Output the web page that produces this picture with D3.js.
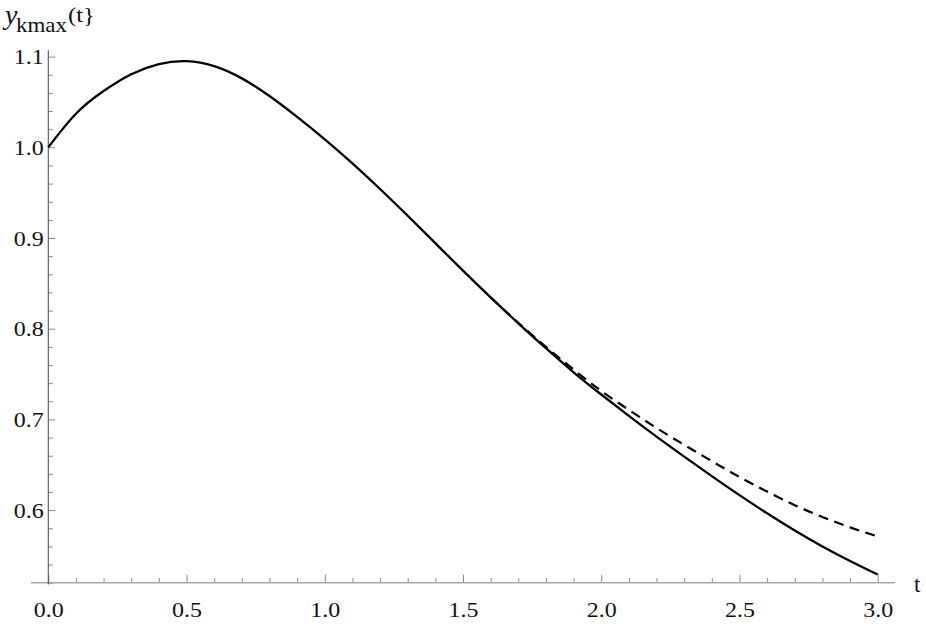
<!DOCTYPE html>
<html>
<head>
<meta charset="utf-8">
<script src="https://cdn.jsdelivr.net/npm/d3@7"></script>
<style>
  body { margin: 0; background: #fff; }
</style>
</head>
<body>
<div id="chart"></div>
<script>
// values
const solidT = d3.range(0, 31).map((i) => i / 10);
const solidY = [1.0, 1.037, 1.062, 1.0805, 1.0918, 1.095, 1.0895, 1.076, 1.0565, 1.0335,
  1.0088, 0.9823, 0.954, 0.9245, 0.8943, 0.864, 0.8345, 0.806, 0.7785, 0.752,
  0.7275, 0.7039, 0.681, 0.659, 0.6375, 0.6165, 0.5965, 0.5775, 0.56, 0.544, 0.529];
const dashT = [1.6, 1.7, 1.8, 1.9, 2.0, 2.1, 2.2, 2.3, 2.4, 2.5, 2.6, 2.7, 2.8, 2.9, 3.0];
const dashY = [0.8345, 0.8065, 0.780, 0.755, 0.7315, 0.7105, 0.6905, 0.672, 0.654, 0.6365, 0.6205, 0.6055, 0.5925, 0.581, 0.571];
const xTicks = [0, 0.5, 1.0, 1.5, 2.0, 2.5, 3.0];
const yTicks = [0.6, 0.7, 0.8, 0.9, 1.0, 1.1];

const serif = '"Liberation Serif", "Times New Roman", Times, Tinos, "Nimbus Roman", "Noto Serif", "DejaVu Serif", serif';
const width = 926, height = 626;
const x = d3.scaleLinear().domain([0, 3]).range([48.3, 877.7]);
const y = d3.scaleLinear().domain([0.52, 1.1]).range([582.7, 56.6]);

const svg = d3.select('#chart').append('svg').attr('width', width).attr('height', height)
  .attr('font-family', serif);

function styleAxis(g) {
  g.select('.domain').remove();
  g.attr('font-family', serif).attr('font-size', 22);
  g.selectAll('line').attr('stroke', '#8a8a8a');
  g.selectAll('text').attr('font-family', serif).attr('fill', '#111')
    .attr('textLength', 30).attr('lengthAdjust', 'spacingAndGlyphs');
}

// x ticks
const xMinor = d3.range(0, 31).map((i) => i / 10).filter((v) => Math.round(v * 10) % 5 !== 0);
svg.append('g').attr('transform', `translate(0,${y(0.52)})`)
  .call(d3.axisBottom(x).tickValues(xMinor).tickSize(-4.5).tickFormat(''))
  .call(styleAxis);
svg.append('g').attr('transform', `translate(0,${y(0.52)})`)
  .call(d3.axisBottom(x).tickValues(xTicks).tickSize(-8).tickPadding(18.5).tickFormat(d3.format('.1f')))
  .call(styleAxis);

// y ticks
const yMinor = d3.range(26, 56).map((i) => i / 50).filter((v) => Math.round(v * 50) % 5 !== 0);
svg.append('g').attr('transform', `translate(${x(0)},0)`)
  .call(d3.axisLeft(y).tickValues(yMinor).tickSize(-4.5).tickFormat(''))
  .call(styleAxis);
svg.append('g').attr('transform', `translate(${x(0)},0)`)
  .call(d3.axisLeft(y).tickValues(yTicks).tickSize(-7).tickPadding(4.5).tickFormat(d3.format('.1f')))
  .call(styleAxis);

// axis lines
svg.append('line')
  .attr('x1', x(-0.063)).attr('x2', x(3.063))
  .attr('y1', y(0.52)).attr('y2', y(0.52))
  .attr('stroke', '#a8a8a8').attr('stroke-width', 1.6);
svg.append('line')
  .attr('x1', x(0)).attr('x2', x(0))
  .attr('y1', y(1.107)).attr('y2', y(0.518))
  .attr('stroke', '#555').attr('stroke-width', 1.1);

const line = d3.line().x((d) => x(d[0])).y((d) => y(d[1])).curve(d3.curveNatural);

svg.append('path')
  .datum(dashT.map((t, i) => [t, dashY[i]]))
  .attr('d', line)
  .attr('fill', 'none')
  .attr('stroke', '#000')
  .attr('stroke-width', 2.2)
  .attr('stroke-dasharray', '10,6.5');

svg.append('path')
  .datum(solidT.map((t, i) => [t, solidY[i]]))
  .attr('d', line)
  .attr('fill', 'none')
  .attr('stroke', '#000')
  .attr('stroke-width', 2.3)
  .attr('stroke-linejoin', 'round');

// axis labels
svg.append('text').attr('x', 914).attr('y', 592).attr('font-size', 23).attr('fill', '#111').text('t');

svg.append('text').attr('x', 5).attr('y', 24).attr('fill', '#111')
  .attr('font-style', 'italic').attr('font-size', 28).text('y');
svg.append('text').attr('x', 16).attr('y', 31.5).attr('fill', '#111').attr('font-size', 22)
  .attr('textLength', 51).attr('lengthAdjust', 'spacingAndGlyphs').text('kmax');
svg.append('text').attr('x', 68).attr('y', 22).attr('fill', '#111').attr('font-size', 20)
  .attr('textLength', 27).attr('lengthAdjust', 'spacingAndGlyphs').text('(t}');
</script>
</body>
</html>
